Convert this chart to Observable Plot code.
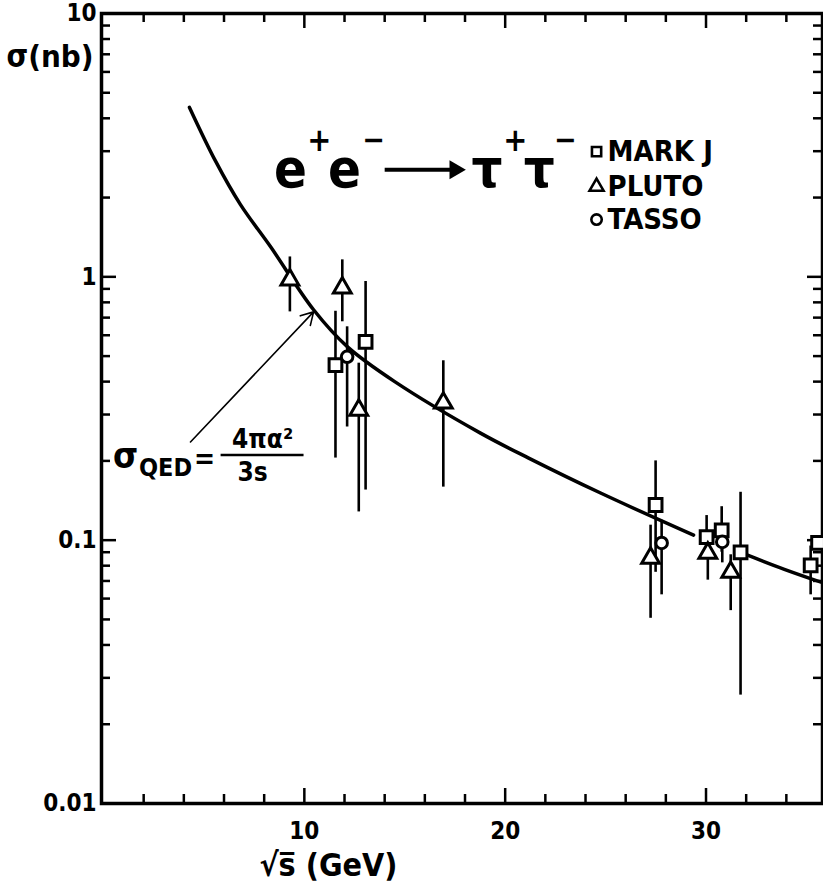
<!DOCTYPE html>
<html><head><meta charset="utf-8">
<script src="https://cdn.jsdelivr.net/npm/d3@7"></script>
<script src="https://cdn.jsdelivr.net/npm/@observablehq/plot@0.6"></script>
<style>body{margin:0;background:#fff}</style>
</head><body><div id="chart"></div>
<script>
const FONT = '"DejaVu Sans Condensed","Liberation Sans Narrow","DejaVu Sans",sans-serif';

// ---- data ----
const markjS  = [11.55, 13.05, 27.49, 30.03, 30.78, 31.72, 35.21, 35.58];
const markjV  = [0.462, 0.566, 0.136, 0.1026, 0.109, 0.0899, 0.0803, 0.0976];
const markjLo = [0.205, 0.155, 0.0755, 0.09, 0.09, 0.0258, 0.062, null];
const markjHi = [0.74, 0.96, 0.20, 0.124, 0.134, 0.152, 0.095, null];

const plutoS  = [9.28, 11.89, 12.71, 16.92, 27.24, 30.09, 31.23];
const plutoV  = [0.974, 0.908, 0.312, 0.332, 0.0855, 0.0893, 0.0756];
const plutoLo = [0.736, 0.675, 0.128, 0.159, 0.0505, 0.0705, 0.054];
const plutoHi = [1.19, 1.16, 0.47, 0.48, 0.114, 0.10, 0.088];

const tassoS  = [12.13, 27.79, 30.81];
const tassoV  = [0.497, 0.0976, 0.0985];
const tassoLo = [0.269, 0.062, 0.082];
const tassoHi = [0.646, 0.119, 0.11];

// QED curve, points (two visible pieces)
const curve1S = [4.28, 5.58, 6.82, 8.32, 10.46, 12.15, 14.5, 18.77, 21.17, 24.75, 29.38];
const curve1V = [4.40, 2.75, 1.88, 1.30, 0.75, 0.542, 0.40, 0.255, 0.205, 0.151, 0.1045];
const curve2S = [32.07, 33.9, 35.86];
const curve2V = [0.0877, 0.0775, 0.0687];

// axis ticks
const xMajor = [10, 20, 30];
const xMinor = [2, 4, 6, 8, 12, 14, 16, 18, 22, 24, 26, 28, 32, 34];
const yMajor = [0.01, 0.1, 1, 10];
const yMajorLabels = ["0.01", "0.1", "1", "10"];
const yMinor = [0.01, 0.1, 1].flatMap(d => [2,3,4,5,6,7,8,9].map(k => +(d*k).toPrecision(3)));

const seriesNames = ["MARK J", "PLUTO", "TASSO"];
const seriesSymbols = ["square", "triangle", "circle"];
const legendV = [2.99, 2.20, 1.65];

// ---- layout ----
const W = 823, H = 889;
const mL = 101, mR = 1, mT = 13, mB = 86;
const innerW = W - mL - mR, innerH = H - mT - mB;

const rows = (S, V, Lo, Hi) => S.map((s, i) => ({s, v: V[i], lo: Lo[i], hi: Hi[i]}));
const markj = rows(markjS, markjV, markjLo, markjHi);
const pluto = rows(plutoS, plutoV, plutoLo, plutoHi);
const tasso = rows(tassoS, tassoV, tassoLo, tassoHi);
const allBars = [...markj, ...pluto, ...tasso].filter(d => d.lo != null);
const c1 = curve1S.map((s, i) => ({s, v: curve1V[i]}));
const c2 = curve2S.map((s, i) => ({s, v: curve2V[i]}));

const txt = (text, x, y, size, extra = {}) =>
  Plot.text([text], {x: () => x, y: () => y, text: d => d, fontSize: size, fontFamily: FONT, fontWeight: "bold", fill: "black", ...extra});

const tMinor = 9, tMajor = 15, tW = 2.5;

const plot = Plot.plot({
  width: W, height: H,
  marginLeft: mL, marginRight: mR, marginTop: mT, marginBottom: mB,
  x: {domain: [-0.1, 35.8], axis: null},
  y: {type: "log", domain: [0.01, 10], axis: null},
  style: {fontFamily: FONT, background: "white", color: "black"},
  marks: [
    // ticks (inward) on all four sides
    Plot.tickX(xMinor, {x: d => d, insetTop: innerH - tMinor, strokeWidth: tW}),
    Plot.tickX(xMajor, {x: d => d, insetTop: innerH - tMajor, strokeWidth: tW}),
    Plot.tickX(xMinor, {x: d => d, insetBottom: innerH - tMinor, strokeWidth: tW}),
    Plot.tickX(xMajor, {x: d => d, insetBottom: innerH - tMajor, strokeWidth: tW}),
    Plot.tickY(yMinor, {y: d => d, insetRight: innerW - tMinor, strokeWidth: tW}),
    Plot.tickY(yMajor, {y: d => d, insetRight: innerW - tMajor, strokeWidth: tW}),
    Plot.tickY(yMinor, {y: d => d, insetLeft: innerW - tMinor, strokeWidth: tW}),
    Plot.tickY(yMajor, {y: d => d, insetLeft: innerW - tMajor, strokeWidth: tW}),
    Plot.frame({stroke: "black", strokeWidth: 3.5}),

    // tick labels
    Plot.text(xMajor, {x: d => d, frameAnchor: "bottom", lineAnchor: "middle", dy: 28, text: d => String(d), fontSize: 24, fontFamily: FONT, fontWeight: "bold"}),
    Plot.text(yMajor, {y: d => d, frameAnchor: "left", lineAnchor: "middle", dx: -5, textAnchor: "end", text: (d, i) => yMajorLabels[i], fontSize: 24, fontFamily: FONT, fontWeight: "bold"}),
    Plot.text(["σ(nb)"], {frameAnchor: "top-left", lineAnchor: "middle", dx: -8, dy: 44, textAnchor: "end", text: d => d, fontSize: 31, fontFamily: FONT, fontWeight: "bold"}),
    Plot.text(["√s̅ (GeV)"], {x: () => 11.2, frameAnchor: "bottom", lineAnchor: "middle", dy: 62, text: d => d, fontSize: 32, fontFamily: FONT, fontWeight: "bold"}),

    // QED curve
    Plot.line(c1, {x: "s", y: "v", curve: "catmull-rom", strokeWidth: 3.5, clip: true}),
    Plot.line(c2, {x: "s", y: "v", curve: "catmull-rom", strokeWidth: 3.5, clip: true}),

    // error bars
    Plot.ruleX(allBars, {x: "s", y1: "lo", y2: "hi", strokeWidth: 2.6}),

    // data points
    Plot.dot(markj, {x: "s", y: "v", symbol: "square", r: 7.2, fill: "white", stroke: "black", strokeWidth: 3}),
    Plot.dot(pluto, {x: "s", y: "v", symbol: "triangle", r: 6.6, fill: "white", stroke: "black", strokeWidth: 3}),
    Plot.dot(tasso, {x: "s", y: "v", symbol: "circle", r: 5.8, fill: "white", stroke: "black", strokeWidth: 3}),

    // legend
    Plot.dot(seriesNames, {x: () => 24.55, y: (d, i) => legendV[i], symbol: (d, i) => seriesSymbols[i], r: 5.2, fill: "white", stroke: "black", strokeWidth: 2.6}),
    Plot.text(seriesNames, {x: () => 25.1, y: (d, i) => legendV[i], text: d => d, textAnchor: "start", fontSize: 29, fontFamily: FONT, fontWeight: "bold"}),

    // title e+e- -> tau+tau-
    txt("e", 9.31, 2.55, 54),
    txt("+", 10.75, 3.3, 32),
    txt("e", 12.0, 2.55, 54),
    txt("−", 13.45, 3.3, 30),
    Plot.link([0], {x1: () => 14.0, x2: () => 17.4, y1: () => 2.55, y2: () => 2.55, strokeWidth: 4}),
    Plot.dot([0], {x: () => 17.5, y: () => 2.55, symbol: "triangle", rotate: 90, r: 7, fill: "black"}),
    txt("τ", 19.1, 2.55, 54),
    txt("+", 20.5, 3.3, 32),
    txt("τ", 21.7, 2.55, 54),
    txt("−", 23.0, 3.3, 30),

    // sigma_QED annotation
    txt("σ", 1.10, 0.2087, 36),
    txt("QED", 3.09, 0.1878, 25),
    txt("=", 5.03, 0.203, 28),
    txt("4πα²", 7.92, 0.240, 26),
    Plot.link([0], {x1: () => 5.83, x2: () => 9.96, y1: () => 0.2105, y2: () => 0.2105, strokeWidth: 2.5}),
    txt("3s", 7.42, 0.180, 26),
    Plot.arrow([0], {x1: () => 4.33, y1: () => 0.236, x2: () => 10.46, y2: () => 0.736, strokeWidth: 1.6, headLength: 13})
  ]
});
document.getElementById("chart").appendChild(plot);
</script>
</body></html>
